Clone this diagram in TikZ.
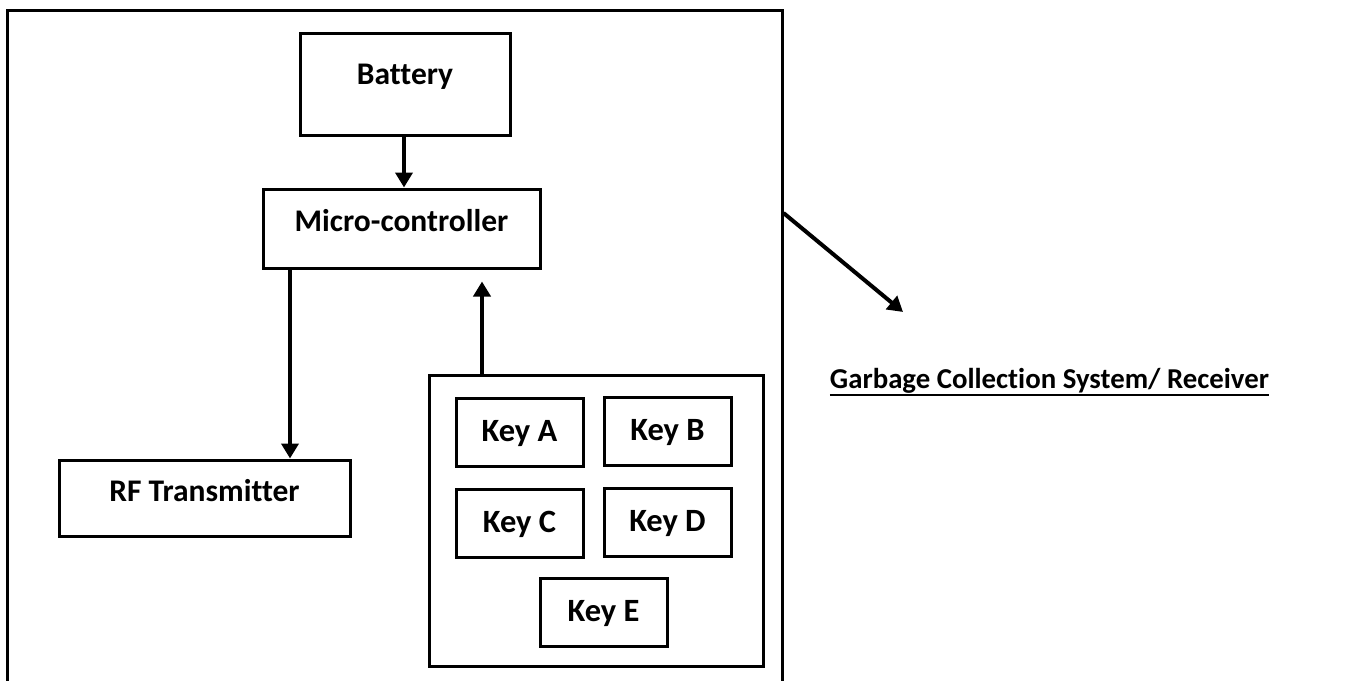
\documentclass[tikz,border=0pt]{standalone}
\usepackage{fontspec}
\setmainfont{Carlito}[Ligatures=CommonOff]
\usetikzlibrary{arrows.meta,calc}

\begin{document}
\begin{tikzpicture}[
    x=1pt, y=-1pt,
    font=\fontsize{31.5}{36}\selectfont\bfseries,
    box/.style={draw, line width=3pt, rectangle, inner sep=0pt,
                text height=13pt, text depth=7pt},
    keybox/.style={box, minimum width=127pt, minimum height=68pt,
                text height=19pt, text depth=0pt,
                font=\fontsize{32.5}{36}\selectfont\bfseries},
    flow/.style={draw, line width=4pt,
                -{Triangle[length=15pt,width=17pt]}},
  ]
  \useasboundingbox (0,0) rectangle (1351,680);
  \begin{scope}
    \clip (0,0) rectangle (1351,680);
    % enclosing frame of the remote unit (its lower edge runs off the page)
    \node[draw, line width=3pt, inner sep=0pt, minimum width=775pt,
          minimum height=690pt] (unit) at (394.5,355) {};
  \end{scope}

  % main blocks
  \node[box, text height=10pt, text depth=10pt, minimum width=210pt,
        minimum height=102pt] (battery) at (405,84) {Battery};
  \node[box, minimum width=277pt, minimum height=79pt] (micro) at (401.5,228.5) {Micro-controller};
  \node[box, minimum width=291pt, minimum height=76pt] (rf) at (204.5,498) {RF Transmitter};

  % keypad
  \node[box, minimum width=334pt, minimum height=291pt] (keypad) at (596,520.5) {};
  \node[keybox] (keya) at (519.5,432) {Key A};
  \node[keybox] (keyb) at (667.5,431) {Key B};
  \node[keybox] (keyc) at (519.5,523) {Key C};
  \node[keybox] (keyd) at (667.5,522) {Key D};
  \node[keybox] (keye) at (603.5,612) {Key E};

  % receiver label
  \node[inner sep=0pt, anchor=base, font=\fontsize{28.8}{34}\selectfont\bfseries]
    (rx) at (1049.5,388) {Garbage Collection System/ Receiver};
  \draw[line width=2.5pt] ([yshift=-7pt]rx.base west) -- ([yshift=-7pt]rx.base east);
  \coordinate (rxtip) at (903,312);

  % connections
  \draw[flow] (battery.south -| 404,0) -- (micro.north -| 404,0);
  \draw[flow] (micro.south -| 290,0) -- (rf.north -| 290,0);
  \draw[flow, shorten >=12pt] (keypad.north -| 482,0) -- (micro.south -| 482,0);
  \draw[flow] (unit.east |- 0,213) -- (rxtip);
\end{tikzpicture}
\end{document}
